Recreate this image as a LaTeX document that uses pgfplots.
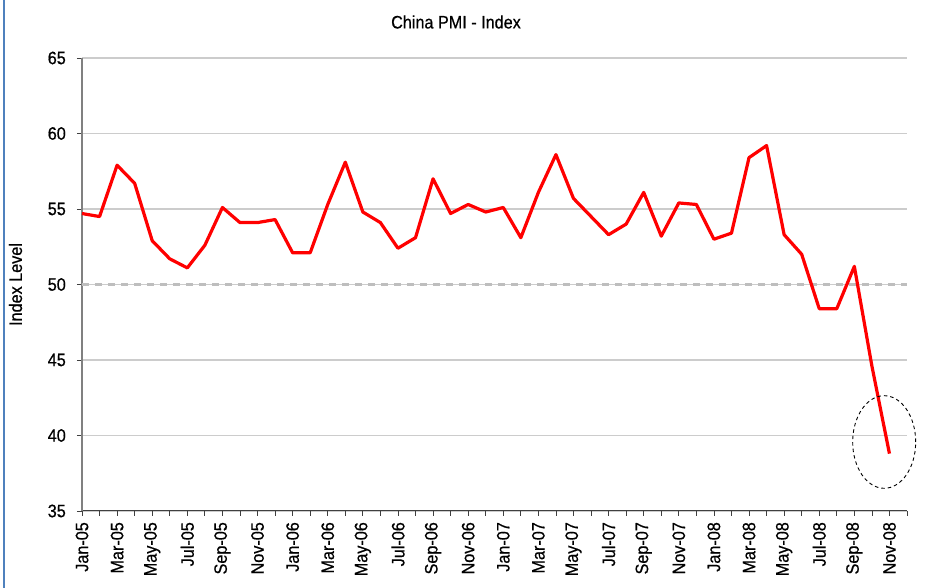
\documentclass[border=0pt]{standalone}
\usepackage{fontspec}
\setmainfont[FakeStretch=0.9,FakeBold=0.6]{Liberation Sans}
\usepackage{pgfplots}
\pgfplotsset{compat=1.18}
\definecolor{gridgray}{RGB}{204,204,204}
\definecolor{dashgray}{RGB}{190,190,190}
\definecolor{framblue}{RGB}{79,129,189}
\begin{document}
\fontsize{18pt}{21pt}\selectfont
\begin{tikzpicture}[x=1pt,y=1pt]
\path[use as bounding box] (-82,-77) rectangle (849,511);
\draw[framblue, line width=1.2pt] (-78,-77) -- (-78,511);
\begin{axis}[
  at={(0,0)}, anchor=south west, scale only axis,
  width=825pt, height=453pt,
  xmin=0, xmax=47, ymin=35, ymax=65,
  clip=false,
  axis lines*=left,
  x axis line style={black!75, line width=1pt},
  y axis line style={gray, line width=1.3pt},
  ytick={35,40,...,65},
  ymajorgrids,
  grid style={gridgray, line width=1.2pt},
  tick align=outside,
  major tick length=5pt, minor tick length=5pt,
  every tick/.style={black!75, line width=0.8pt},
  xtick={0,2,...,46},
  minor xtick={1,3,...,47},
  xticklabels={Jan-05,Mar-05,May-05,Jul-05,Sep-05,Nov-05,Jan-06,Mar-06,May-06,Jul-06,Sep-06,Nov-06,Jan-07,Mar-07,May-07,Jul-07,Sep-07,Nov-07,Jan-08,Mar-08,May-08,Jul-08,Sep-08,Nov-08},
  x tick label style={rotate=90, anchor=east, font=\fontsize{18pt}{21pt}\selectfont},
  y tick label style={font=\fontsize{18pt}{21pt}\selectfont, xshift=-5pt},
  /pgf/number format/assume math mode=true,
]
\draw[dashgray, line width=3pt, dash pattern=on 7pt off 6pt] (axis cs:0,50) -- (axis cs:47,50);
\addplot[color=red, line width=3.2pt, line join=round, mark=none] table {
x y
0 54.7
1 54.5
2 57.9
3 56.7
4 52.9
5 51.7
6 51.1
7 52.6
8 55.1
9 54.1
10 54.1
11 54.3
12 52.1
13 52.1
14 55.3
15 58.1
16 54.8
17 54.1
18 52.4
19 53.1
20 57.0
21 54.7
22 55.3
23 54.8
24 55.1
25 53.1
26 56.1
27 58.6
28 55.7
29 54.5
30 53.3
31 54.0
32 56.1
33 53.2
34 55.4
35 55.3
36 53.0
37 53.4
38 58.4
39 59.2
40 53.3
41 52.0
42 48.4
43 48.4
44 51.2
45 44.6
46 38.8
};
\draw[black, line width=0.9pt, dash pattern=on 3.5pt off 3pt] (axis cs:45.70,39.57) ellipse [x radius=31.5pt, y radius=46.3pt];
\end{axis}
\node at (374,489) {China PMI - Index};
\node[rotate=90] at (-66.5,226.5) {Index Level};
\end{tikzpicture}
\end{document}
